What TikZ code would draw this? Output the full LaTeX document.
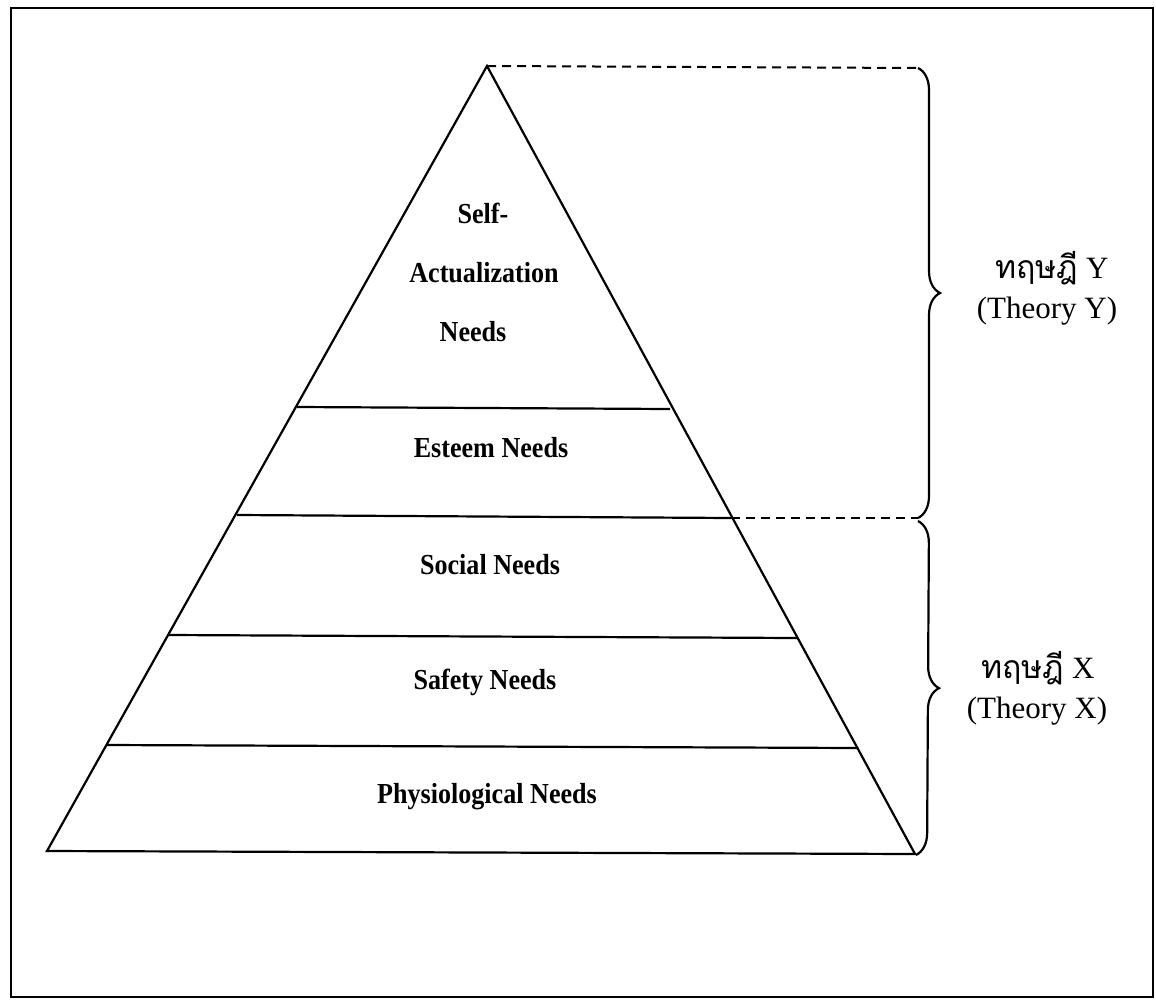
\documentclass[tikz,border=0pt]{standalone}
\usepackage{fontspec}
\setmainfont{Liberation Serif}
\newfontfamily\labfont[FakeStretch=0.9]{Liberation Serif}
\newfontfamily\thaifont[Script=Thai]{Loma}
\usetikzlibrary{decorations.pathreplacing,calc}
\begin{document}
\begin{tikzpicture}[x=1pt,y=-1pt,
  thick line/.style={line width=2.2pt,line join=miter},
  lvl/.style={font=\labfont\fontsize{29}{31}\selectfont\bfseries,inner sep=0pt},
  theory/.style={font=\fontsize{31}{36}\selectfont,inner sep=0pt},
  dashline/.style={line width=2pt,dash pattern=on 9pt off 6pt},
  bracestyle/.style={line width=2.2pt,decorate,decoration={brace,amplitude=22pt}}]
\useasboundingbox (0,0) rectangle (1156,1001);
% frame
\draw[line width=2pt] (11,8) rectangle (1153,997);
% pyramid corners
\coordinate (apex) at (487,66);
\coordinate (bl) at (47,851);
\coordinate (br) at (915,854);
\draw[thick line] (apex) -- (bl) -- (br) -- cycle;
% level lines
\coordinate (l1a) at (297,407); \coordinate (l1b) at (670,409);
\coordinate (l2a) at (237,515); \coordinate (l2b) at (731,518);
\coordinate (l3a) at (168,635); \coordinate (l3b) at (797,638);
\coordinate (l4a) at (107,745); \coordinate (l4b) at (858,748);
\draw[thick line] (l1a) -- (l1b);
\draw[thick line] (l2a) -- (l2b);
\draw[thick line] (l3a) -- (l3b);
\draw[thick line] (l4a) -- (l4b);
% labels
\node[lvl] (self) at (483,213) {Self-};
\node[lvl] (act) at (484,273) {Actualization};
\node[lvl] (needs) at (473,332) {Needs};
\node[lvl] (esteem) at (491,448) {Esteem Needs};
\node[lvl] (social) at (490,565) {Social Needs};
\node[lvl] (safety) at (485,682) {Safety Needs};
\node[lvl] (phys) at (487,797) {Physiological Needs};
% dashed guides
\coordinate (ytop) at (918,68);
\coordinate (ybot) at (918,518);
\coordinate (xtop) at (918,521);
\coordinate (xbot) at (916,855);
\draw[dashline] (apex) -- (ytop);
\draw[dashline] (l2b) -- (ybot);
% braces
\draw[bracestyle] (ytop) -- (ybot);
\draw[bracestyle] (xtop) -- (xbot);
% theory labels
\node[theory] (thY) at (1052,268) {{\thaifont\fontsize{32}{36}\selectfont ทฤษฎี} Y};
\node[theory] (enY) at (1047,311) {(Theory Y)};
\node[theory] (thX) at (1038,668) {{\thaifont\fontsize{32}{36}\selectfont ทฤษฎี} X};
\node[theory] (enX) at (1037,711) {(Theory X)};
\end{tikzpicture}
\end{document}
